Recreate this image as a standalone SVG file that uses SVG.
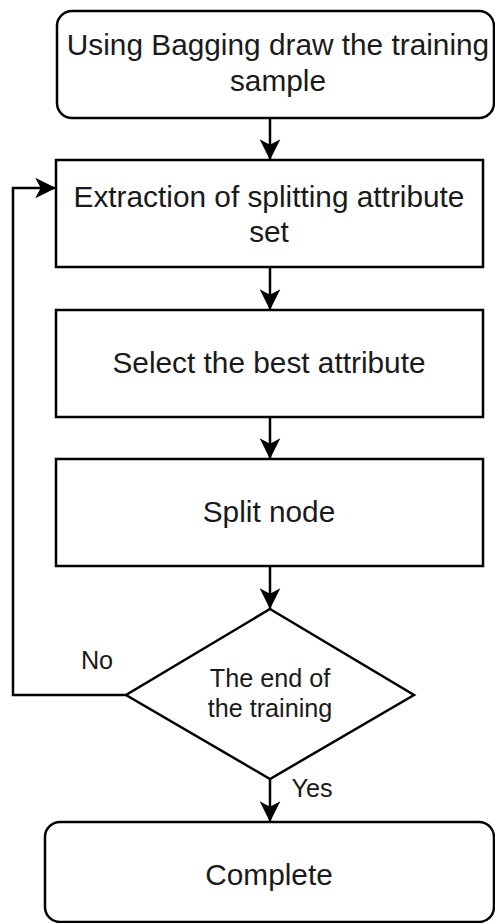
<svg xmlns="http://www.w3.org/2000/svg" width="495" height="923" viewBox="0 0 495 923">
  <style>
    .shape { fill: #ffffff; stroke: #000000; stroke-width: 2.5; }
    .edge { fill: none; stroke: #000000; stroke-width: 2.5; }
    .label { font-family: "Liberation Sans", Arial, sans-serif; fill: #1a1a1a; text-anchor: middle; }
    .big { font-size: 29.8px; }
    .small { font-size: 25.2px; }
  </style>
  <defs>
    <marker id="arrow" markerUnits="userSpaceOnUse" markerWidth="24" markerHeight="24" viewBox="-20 -10 22 20" refX="0" refY="0" orient="auto">
      <path d="M0,0 L-19,-9.5 L-14,0 L-19,9.5 Z" fill="#000000"/>
    </marker>
  </defs>
  <rect x="0" y="0" width="495" height="923" fill="#ffffff"/>

  <g id="connectors">
    <line class="edge" x1="270" y1="118" x2="270" y2="160" marker-end="url(#arrow)"/>
    <line class="edge" x1="270" y1="267" x2="270" y2="310" marker-end="url(#arrow)"/>
    <line class="edge" x1="270" y1="417" x2="270" y2="459" marker-end="url(#arrow)"/>
    <line class="edge" x1="270" y1="566" x2="270" y2="609" marker-end="url(#arrow)"/>
    <line class="edge" x1="270" y1="779" x2="270" y2="822" marker-end="url(#arrow)"/>
    <polyline class="edge" points="126,695 13,695 13,188 56,188" marker-end="url(#arrow)"/>
    <text class="label small" x="97" y="669">No</text>
    <text class="label small" x="312" y="797">Yes</text>
  </g>

  <g id="start">
    <rect class="shape" x="57" y="11" width="437" height="107" rx="15" ry="15"/>
    <text class="label big" x="278" y="55">Using Bagging draw the training</text>
    <text class="label big" x="278" y="91">sample</text>
  </g>

  <g id="extract">
    <rect class="shape" x="56" y="160" width="427" height="107"/>
    <text class="label big" x="269" y="207">Extraction of splitting attribute</text>
    <text class="label big" x="269" y="242">set</text>
  </g>

  <g id="select">
    <rect class="shape" x="56" y="310" width="427" height="107"/>
    <text class="label big" x="269" y="373">Select the best attribute</text>
  </g>

  <g id="split">
    <rect class="shape" x="56" y="459" width="427" height="107"/>
    <text class="label big" x="269" y="522">Split node</text>
  </g>

  <g id="decision">
    <polygon class="shape" points="270,609 414,695 270,779 126,695"/>
    <text class="label small" x="270" y="687">The end of</text>
    <text class="label small" x="270" y="717">the training</text>
  </g>

  <g id="complete">
    <rect class="shape" x="45" y="822" width="449" height="100" rx="15" ry="15"/>
    <text class="label big" x="269" y="885">Complete</text>
  </g>
</svg>
